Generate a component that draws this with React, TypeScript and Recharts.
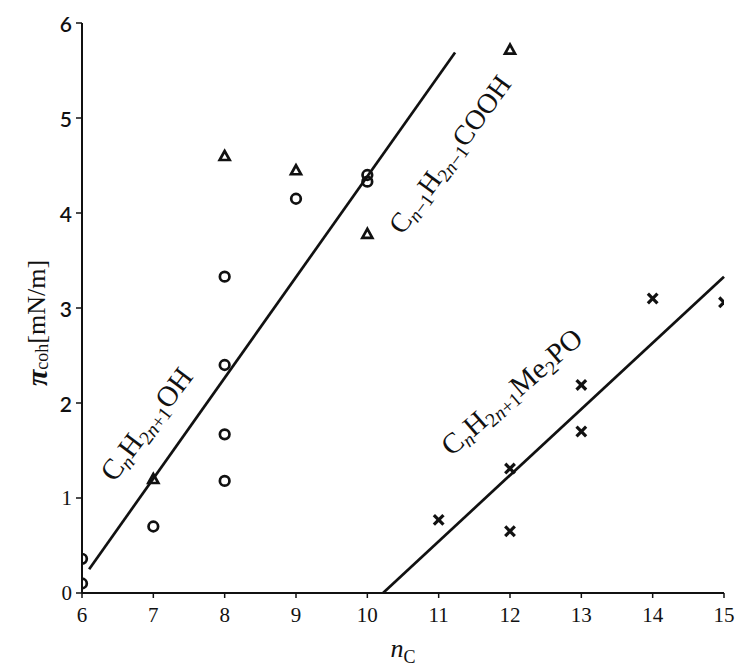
import React from "react";
import { ComposedChart, Scatter, XAxis, YAxis, ReferenceLine, ReferenceDot } from "recharts";

const xTicks = [6, 7, 8, 9, 10, 11, 12, 13, 14, 15];
const yTicks = [0, 1, 2, 3, 4, 5, 6];

const alcoholX = [6, 6, 7, 8, 8, 8, 8, 9, 10, 10];
const alcoholY = [0.36, 0.1, 0.7, 3.33, 2.4, 1.67, 1.18, 4.15, 4.33, 4.4];

const acidX = [7, 8, 9, 10, 12];
const acidY = [1.2, 4.6, 4.45, 3.78, 5.72];

const phosX = [11, 12, 12, 13, 13, 14, 15];
const phosY = [0.77, 1.31, 0.65, 2.19, 1.7, 3.1, 3.06];

const alcoholFit = [
  { x: 6.1, y: 0.25 },
  { x: 11.23, y: 5.69 },
];
const phosFit = [
  { x: 10.22, y: 0 },
  { x: 15, y: 3.33 },
];

const alcoholLabel = { x: 6.9, y: 1.78, angle: 53, size: 29 };
const acidLabel = { x: 11.15, y: 4.62, angle: 54, size: 28 };
const phosLabel = { x: 12.02, y: 2.12, angle: 41, size: 29 };

const toPoints = (xs: number[], ys: number[]) => xs.map((x, i) => ({ x, y: ys[i] }));

const alcoholData = toPoints(alcoholX, alcoholY);
const acidData = toPoints(acidX, acidY);
const phosData = toPoints(phosX, phosY);

const INK = "#111";
const SERIF = "'Liberation Serif', 'DejaVu Serif', serif";
const SANS = "Lato, 'Open Sans', sans-serif";

const CircleShape = (p: any) => (
  <circle cx={p.cx} cy={p.cy} r={4.8} fill="none" stroke={INK} strokeWidth={2.7} />
);
const TriShape = (p: any) => {
  const s = 5;
  return (
    <polygon
      points={`${p.cx},${p.cy - s} ${p.cx - s},${p.cy + s * 0.8} ${p.cx + s},${p.cy + s * 0.8}`}
      fill="none"
      stroke={INK}
      strokeWidth={2.7}
      strokeLinejoin="miter"
    />
  );
};
const CrossShape = (p: any) => {
  const s = 4.8;
  return (
    <g stroke={INK} strokeWidth={3.2}>
      <line x1={p.cx - s} y1={p.cy - s} x2={p.cx + s} y2={p.cy + s} />
      <line x1={p.cx - s} y1={p.cy + s} x2={p.cx + s} y2={p.cy - s} />
    </g>
  );
};

type Part = { t: string; sub?: boolean; it?: boolean };

const Formula = ({ cx, cy, angle, parts, size }: { cx: number; cy: number; angle: number; parts: Part[]; size: number }) => {
  let shift = 0;
  const subShift = Math.round(size * 0.28);
  return (
    <text
      x={cx}
      y={cy}
      transform={`rotate(${-angle} ${cx} ${cy})`}
      textAnchor="middle"
      dominantBaseline="central"
      fontFamily={SERIF}
      fontSize={size}
      fill={INK}
    >
      {parts.map((p, i) => {
        const want = p.sub ? subShift : 0;
        const dy = want - shift;
        shift = want;
        return (
          <tspan key={i} dy={dy} fontSize={p.sub ? size * 0.68 : size} fontStyle={p.it ? "italic" : "normal"}>
            {p.t}
          </tspan>
        );
      })}
    </text>
  );
};

const alcoholParts: Part[] = [
  { t: "C" },
  { t: "n", sub: true, it: true },
  { t: "H" },
  { t: "2", sub: true },
  { t: "n", sub: true, it: true },
  { t: "+1", sub: true },
  { t: "OH" },
];
const acidParts: Part[] = [
  { t: "C" },
  { t: "n", sub: true, it: true },
  { t: "−1", sub: true },
  { t: "H" },
  { t: "2", sub: true },
  { t: "n", sub: true, it: true },
  { t: "−1", sub: true },
  { t: "COOH" },
];
const phosParts: Part[] = [
  { t: "C" },
  { t: "n", sub: true, it: true },
  { t: "H" },
  { t: "2", sub: true },
  { t: "n", sub: true, it: true },
  { t: "+1", sub: true },
  { t: "Me" },
  { t: "2", sub: true },
  { t: "PO" },
];

const labelShape = (parts: Part[], angle: number, size: number) => (p: any) => (
  <Formula cx={p.cx} cy={p.cy} angle={angle} parts={parts} size={size} />
);

const YTick = (p: any) => {
  const v = p.payload.value;
  return (
    <text
      x={p.x}
      y={p.y}
      textAnchor="end"
      dominantBaseline="central"
      fontFamily={v >= 2 ? SANS : SERIF}
      fontWeight={v >= 2 ? 600 : 400}
      fontSize={21}
      fill={INK}
    >
      {v}
    </text>
  );
};

const XTick = (p: any) => (
  <text x={p.x} y={p.y} textAnchor="middle" dominantBaseline="hanging" fontFamily={SERIF} fontSize={21} fill={INK}>
    {p.payload.value}
  </text>
);

const XLabel = (p: any) => {
  const vb = p.viewBox;
  const cx = vb.x + vb.width / 2;
  const y = vb.y + 64;
  return (
    <text x={cx} y={y} textAnchor="middle" fontFamily={SERIF} fontSize={26} fill={INK}>
      <tspan fontStyle="italic">n</tspan>
      <tspan dy={6} fontSize={18}>C</tspan>
    </text>
  );
};

const YLabel = () => {
  const cx = 36;
  const cy = 323;
  return (
    <text
      x={cx}
      y={cy}
      transform={`rotate(-90 ${cx} ${cy})`}
      textAnchor="middle"
      dominantBaseline="central"
      fontFamily={SERIF}
      fontSize={26}
      fill={INK}
    >
      <tspan fontStyle="italic" fontWeight="bold" fontSize={30}>π</tspan>
      <tspan dy={6} fontSize={18}>coh</tspan>
      <tspan dy={-6}>[mN/m]</tspan>
    </text>
  );
};

export default function App() {
  return (
    <div style={{ width: 736, height: 666 }}>
      <style>{`html,body{overflow:hidden;background:#fff;margin:0;padding:0} .recharts-surface{overflow:visible}`}</style>
      <ComposedChart width={736} height={666} margin={{ top: 23, right: 12, left: 0, bottom: 0 }}>
        <XAxis
          type="number"
          dataKey="x"
          domain={[6, 15]}
          ticks={xTicks}
          interval={0}
          height={73}
          tickSize={5}
          tickMargin={9}
          tick={<XTick />}
          axisLine={{ stroke: INK, strokeWidth: 2 }}
          tickLine={{ stroke: INK, strokeWidth: 1.5 }}
          label={<XLabel />}
          allowDataOverflow
        />
        <YAxis
          type="number"
          dataKey="y"
          domain={[0, 6]}
          ticks={yTicks}
          interval={0}
          width={82}
          tickSize={6}
          tickMargin={4}
          tick={<YTick />}
          axisLine={{ stroke: INK, strokeWidth: 2 }}
          tickLine={{ stroke: INK, strokeWidth: 1.5 }}
          label={<YLabel />}
          allowDataOverflow
        />
        <ReferenceLine segment={alcoholFit} stroke={INK} strokeWidth={2.7} ifOverflow="visible" />
        <ReferenceLine segment={phosFit} stroke={INK} strokeWidth={2.7} ifOverflow="visible" />
        <Scatter data={alcoholData} shape={CircleShape} isAnimationActive={false} />
        <Scatter data={acidData} shape={TriShape} isAnimationActive={false} />
        <Scatter data={phosData} shape={CrossShape} isAnimationActive={false} />
        <ReferenceDot x={alcoholLabel.x} y={alcoholLabel.y} r={0} ifOverflow="visible" shape={labelShape(alcoholParts, alcoholLabel.angle, alcoholLabel.size)} />
        <ReferenceDot x={acidLabel.x} y={acidLabel.y} r={0} ifOverflow="visible" shape={labelShape(acidParts, acidLabel.angle, acidLabel.size)} />
        <ReferenceDot x={phosLabel.x} y={phosLabel.y} r={0} ifOverflow="visible" shape={labelShape(phosParts, phosLabel.angle, phosLabel.size)} />
      </ComposedChart>
    </div>
  );
}
